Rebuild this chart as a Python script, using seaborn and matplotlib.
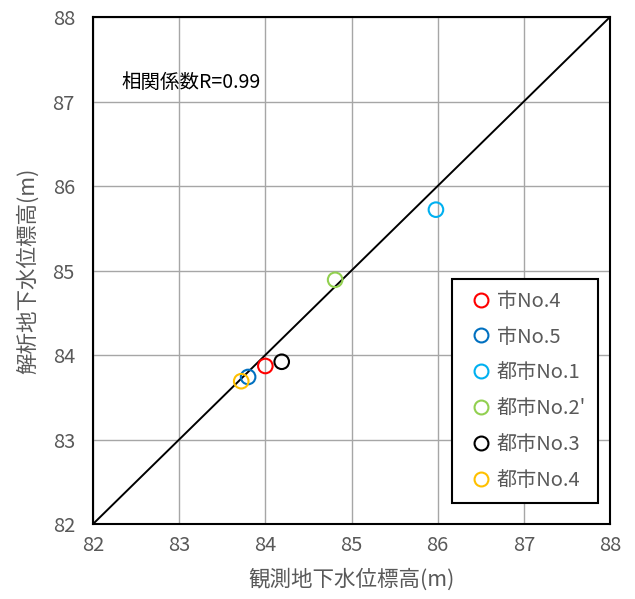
#!/usr/bin/env python3
"""
Observed vs simulated groundwater level scatter
"""
import pandas as pd
import numpy as np
import matplotlib.pyplot as plt
import seaborn as sns
from matplotlib.lines import Line2D

sns.set_style('white')
plt.rcParams['font.family'] = ['Noto Sans CJK JP', 'DejaVu Sans']

# data
wells = ['市No.4', '市No.5', '都市No.1', '都市No.2\'', '都市No.3', '都市No.4']
observed = [84.00, 83.80, 85.98, 84.81, 84.19, 83.72]
simulated = [83.87, 83.74, 85.72, 84.89, 83.92, 83.69]
colors = ['#FF0000', '#0070C0', '#00B0F0', '#92D050', '#000000', '#FFC000']
ticks = [82, 83, 84, 85, 86, 87, 88]

df = pd.DataFrame({'well': wells, 'obs': observed, 'sim': simulated})

fig = plt.figure(figsize=(6.35, 5.99), dpi=100)
ax = fig.add_axes([0.1465, 0.1252, 0.8141, 0.8464])

# 1:1 line
ax.plot([82, 88], [82, 88], color='black', lw=1.4, zorder=2)

for w, c in zip(wells, colors):
    sub = df[df['well'] == w]
    sns.scatterplot(data=sub, x='obs', y='sim', ax=ax, s=110,
                    facecolors='none', edgecolor=c, linewidth=1.5,
                    zorder=3, legend=False)

ax.set_xlim(82, 88)
ax.set_ylim(82, 88)
ax.set_xticks(ticks)
ax.set_yticks(ticks)
ax.grid(True, color='#A6A6A6', lw=1.0)
ax.set_axisbelow(True)
for sp in ax.spines.values():
    sp.set_color('black')
    sp.set_linewidth(1.5)
ax.tick_params(axis='both', length=0, labelsize=14.5, labelcolor='#595959')
ax.tick_params(axis='x', pad=8)
ax.tick_params(axis='y', pad=13)

ax.set_xlabel('観測地下水位標高(m)', fontsize=15.5, color='#595959', labelpad=9)
ax.set_ylabel('解析地下水位標高(m)', fontsize=15.5, color='#595959', labelpad=10)

ax.text(82.33, 87.23, '相関係数R=0.99', fontsize=14, color='black', va='center')

handles = [Line2D([], [], marker='o', ls='none', markersize=10, markerfacecolor='none',
                  markeredgecolor=c, markeredgewidth=1.5) for c in colors]
leg = ax.legend(handles, wells, loc='lower right', bbox_to_anchor=(0.977, 0.041),
                frameon=True, fancybox=False, edgecolor='black', framealpha=1,
                fontsize=14.5, labelspacing=0.74, handletextpad=0.0, handlelength=1.6,
                borderpad=0.6, borderaxespad=0)
leg.get_frame().set_linewidth(1.5)
for t in leg.get_texts():
    t.set_color('#595959')

plt.savefig('out.png', dpi=100)
